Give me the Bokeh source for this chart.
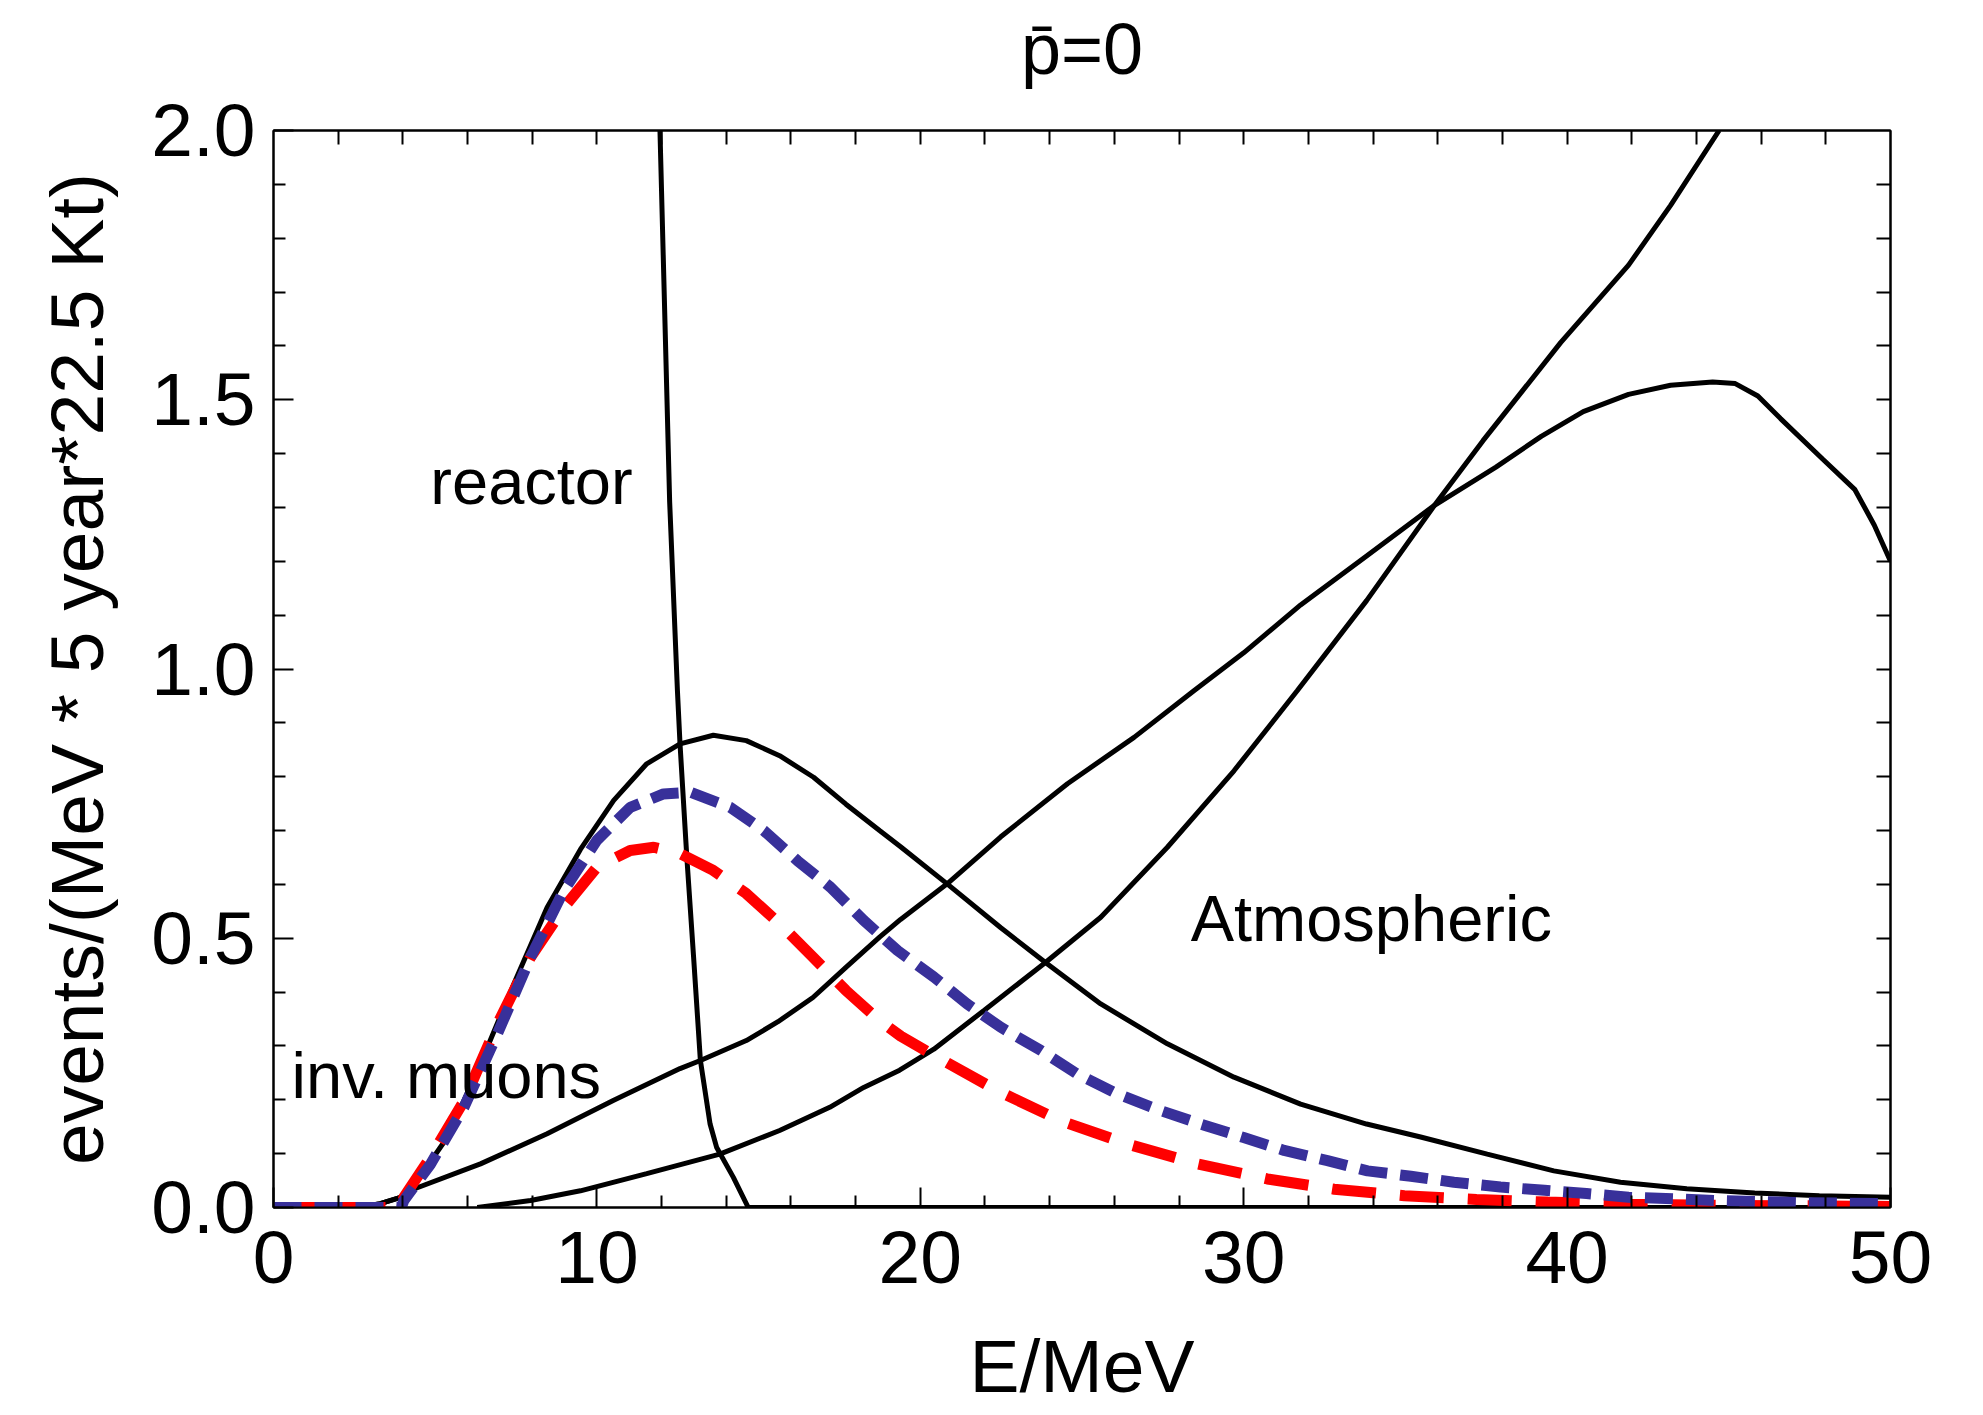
from bokeh.plotting import figure
from bokeh.models import Range1d, LinearAxis, FixedTicker, Label, PrintfTickFormatter
from bokeh.embed import file_html
from bokeh.resources import INLINE

# ---- data (E in MeV, events) ----
E_c1 = [0, 2.6, 3.3, 3.93, 4.24, 5.37, 6.4, 7.43, 8.46, 9.49, 10.52, 11.54, 12.57, 13.6,
        14.62, 15.65, 16.7, 17.7, 18.74, 19.39, 20.83, 22.48, 23.87, 25.58, 27.64, 29.7,
        31.76, 33.8, 35.47, 37.53, 39.59, 41.65, 43.7, 45.8, 47.8, 50]
v_c1 = [0, 0, 0.007, 0.019, 0.032, 0.13, 0.267, 0.415, 0.557, 0.665, 0.756, 0.824, 0.861, 0.877,
        0.867, 0.839, 0.799, 0.749, 0.70, 0.67, 0.601, 0.52, 0.455, 0.378, 0.304, 0.242,
        0.192, 0.155, 0.131, 0.099, 0.068, 0.047, 0.035, 0.027, 0.022, 0.019]

E_c2 = [0, 2.6, 3.3, 3.93, 4.24, 6.4, 8.46, 10.52, 12.57, 13.2, 14.62, 15.6, 16.68, 17.7,
        18.74, 19.39, 20.83, 22.48, 24.55, 26.61, 28.47, 30.0, 31.76, 33.8, 35.9, 37.8, 39.2,
        40.5, 41.9, 43.2, 44.5, 45.2, 45.9, 46.6, 47.9, 48.9, 49.5, 50]
v_c2 = [0, 0, 0.007, 0.019, 0.032, 0.081, 0.137, 0.199, 0.258, 0.273, 0.31, 0.345, 0.39, 0.446,
        0.502, 0.535, 0.601, 0.688, 0.787, 0.873, 0.96, 1.03, 1.119, 1.21, 1.304, 1.375, 1.432,
        1.478, 1.51, 1.527, 1.533, 1.53, 1.507, 1.465, 1.39, 1.333, 1.267, 1.2]

E_c3 = [6.3, 7.95, 9.49, 11.54, 13.8, 15.65, 17.2, 18.25, 19.36, 20.42, 21.97, 23.87, 25.58,
        27.64, 29.7, 31.66, 33.8, 35.9, 37.4, 39.8, 41.9, 43.2, 44.7]
v_c3 = [0, 0.013, 0.031, 0.063, 0.099, 0.143, 0.186, 0.223, 0.255, 0.294, 0.366, 0.455, 0.539,
        0.669, 0.811, 0.96, 1.127, 1.304, 1.424, 1.606, 1.75, 1.861, 2.0]

E_reactor = [11.95, 12.25, 12.49, 12.57, 12.78, 12.99, 13.2, 13.5, 13.7, 14.22, 14.68, 50]
v_reactor = [2.0, 1.31, 0.96, 0.861, 0.651, 0.465, 0.273, 0.155, 0.112, 0.056, 0.0, 0.0]

E_red = [0, 3.95, 4.03, 4.85, 5.89, 6.92, 7.95, 8.98, 10.0, 11.03, 11.76, 12.58, 13.6, 14.62,
         15.65, 16.68, 17.7, 18.74, 19.4, 20.5, 22.38, 24.34, 26.4, 28.57, 30.73, 32.8, 34.97,
         37.2, 39.4, 42, 45, 50]
v_red = [0, 0, 0.019, 0.093, 0.198, 0.34, 0.465, 0.557, 0.632, 0.663, 0.669, 0.657, 0.626, 0.583,
         0.527, 0.465, 0.403, 0.347, 0.318, 0.28, 0.217, 0.161, 0.118, 0.081, 0.053, 0.034, 0.022,
         0.015, 0.01, 0.006, 0.004, 0.002]

E_blue = [0, 3.95, 4.03, 4.85, 5.89, 6.92, 7.95, 8.98, 10.0, 11.03, 12.06, 12.9, 14.13, 15.16,
          16.2, 17.22, 18.25, 19.3, 20.42, 21.45, 22.48, 23.72, 24.85, 26.09, 27.43, 28.67, 30.0,
          31.25, 32.59, 33.83, 35.17, 36.5, 37.94, 39.3, 40.6, 41.9, 43.3, 44.6, 45.9, 47.3, 48.6, 50]
v_blue = [0, 0, 0.013, 0.08, 0.186, 0.322, 0.465, 0.589, 0.682, 0.743, 0.768, 0.771, 0.743, 0.7,
          0.644, 0.595, 0.533, 0.477, 0.428, 0.378, 0.335, 0.292, 0.248, 0.211, 0.18, 0.155, 0.13,
          0.106, 0.087, 0.068, 0.058, 0.047, 0.038, 0.032, 0.026, 0.019, 0.016, 0.013, 0.011, 0.009,
          0.008, 0.007]

x_ticks = [0, 10, 20, 30, 40, 50]
x_minor = [2, 4, 6, 8, 12, 14, 16, 18, 22, 24, 26, 28, 32, 34, 36, 38, 42, 44, 46, 48]
y_ticks = [0.0, 0.5, 1.0, 1.5, 2.0]
y_minor = [0.1, 0.2, 0.3, 0.4, 0.6, 0.7, 0.8, 0.9, 1.1, 1.2, 1.3, 1.4, 1.6, 1.7, 1.8, 1.9]

title_text = "p\u0304=0"
x_label = "E/MeV"
y_label = "events/(MeV * 5 year*22.5 Kt)"
annotations = [("reactor", 4.85, 1.348), ("inv. muons", 0.56, 0.246), ("Atmospheric", 28.36, 0.537)]

FONT = "Liberation Sans"

p = figure(width=1983, height=1415, x_range=Range1d(0, 50), y_range=Range1d(0, 2),
           output_backend="svg", toolbar_location=None, title=None,
           min_border_left=273, min_border_right=93, min_border_top=130, min_border_bottom=208)
p.grid.visible = False
p.background_fill_color = "white"
p.border_fill_color = "white"
p.outline_line_color = "black"
p.outline_line_width = 2


def base_style(ax):
    ax.major_tick_in = 20
    ax.major_tick_out = 0
    ax.minor_tick_out = 0
    ax.major_tick_line_width = 2
    ax.minor_tick_line_width = 2
    ax.axis_line_width = 2
    ax.axis_line_color = "black"
    ax.major_tick_line_color = "black"
    ax.minor_tick_line_color = "black"


# labelled axes (bottom, left)
xb = p.below[0]
yl = p.left[0]
xb.ticker = FixedTicker(ticks=x_ticks, minor_ticks=x_minor)
yl.ticker = FixedTicker(ticks=y_ticks, minor_ticks=y_minor)
for ax in (xb, yl):
    base_style(ax)
    ax.minor_tick_in = 12
    ax.major_label_text_font = FONT
    ax.major_label_text_font_size = "75px"
    ax.major_label_text_color = "black"
    ax.axis_label_text_font = FONT
    ax.axis_label_text_font_size = "75px"
    ax.axis_label_text_font_style = "normal"
    ax.axis_label_text_color = "black"

xb.axis_label = x_label
xb.major_label_standoff = 24
xb.axis_label_standoff = 38
yl.axis_label = y_label
yl.major_label_standoff = 18
yl.axis_label_standoff = 29
yl.formatter = PrintfTickFormatter(format="%.1f")

# unlabelled mirror axes (top, right): tick marks only, no tick-label texts
xt = LinearAxis(ticker=FixedTicker(ticks=[], minor_ticks=x_ticks[1:-1] + x_minor))
yr = LinearAxis(ticker=FixedTicker(ticks=[], minor_ticks=y_ticks[1:-1] + y_minor))
for ax in (xt, yr):
    base_style(ax)
    ax.minor_tick_in = 14
    ax.major_label_standoff = 0
# the plot title is carried by the top axis label (centred over the frame)
xt.axis_label = title_text
xt.axis_label_text_font = FONT
xt.axis_label_text_font_size = "72px"
xt.axis_label_text_font_style = "normal"
xt.axis_label_text_color = "black"
xt.axis_label_standoff = 42
p.add_layout(xt, "above")
p.add_layout(yr, "right")

lw = 5
p.line(E_c2, v_c2, line_color="black", line_width=lw)
p.line(E_c3, v_c3, line_color="black", line_width=lw)
p.line(E_reactor, v_reactor, line_color="black", line_width=lw)
p.line(E_c1, v_c1, line_color="black", line_width=lw)
p.line(E_red, v_red, line_color="#FF0000", line_width=11, line_dash="44 24")
p.line(E_blue, v_blue, line_color="#38309A", line_width=11, line_dash="28 13")

for txt, x, y in annotations:
    p.add_layout(Label(x=x, y=y, text=txt, text_font=FONT, text_font_size="65px",
                       text_align="left", text_baseline="alphabetic", text_color="black"))

open("out.html", "w").write(file_html(p, INLINE))
